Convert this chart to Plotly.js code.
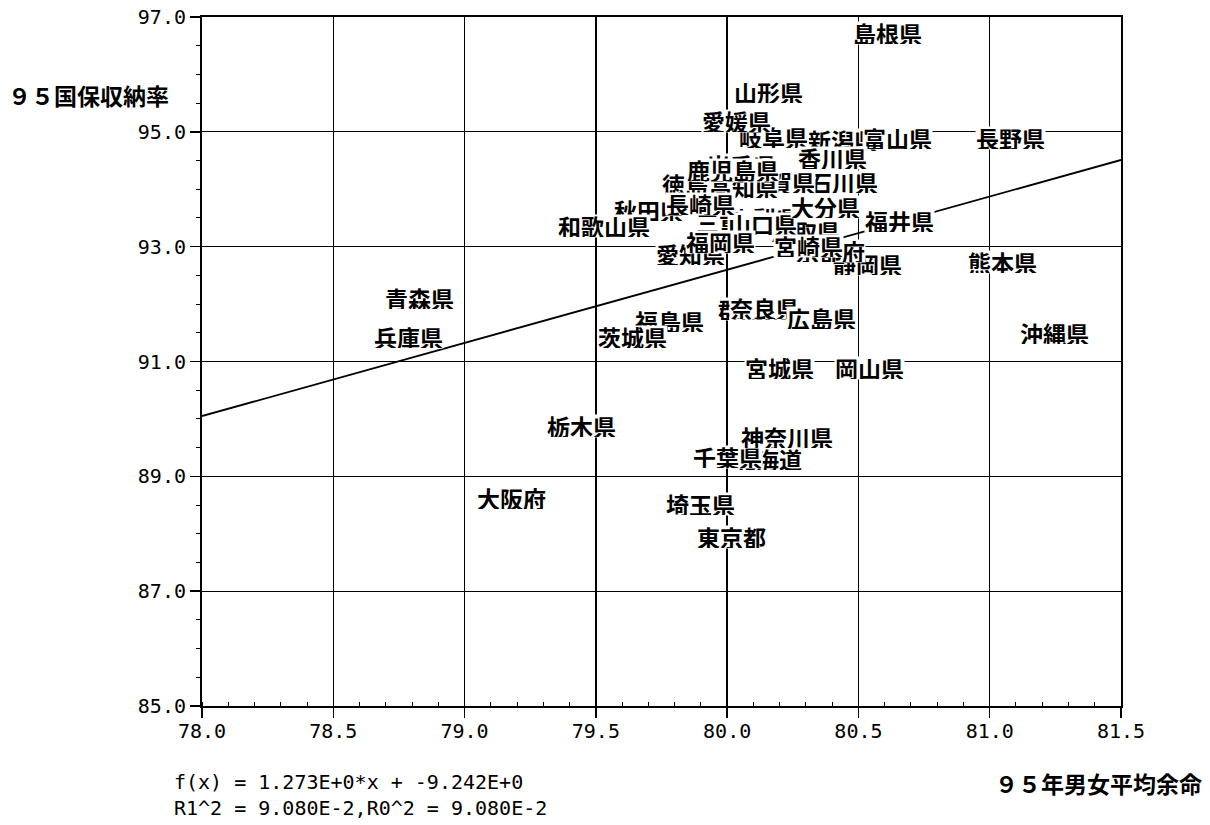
<!DOCTYPE html>
<html><head><meta charset="utf-8">
<script src="https://cdn.plot.ly/plotly-3.0.1.min.js"></script>
<style>html,body{margin:0;padding:0;background:#fff}#chart{width:1210px;height:825px}</style>
</head><body><div id="chart"></div>
<script>
// Prefectures in standard order (later labels are drawn over earlier ones)
const prefectures = ['北海道','青森県','岩手県','宮城県','秋田県','山形県','福島県','茨城県','栃木県','群馬県',
  '埼玉県','千葉県','東京都','神奈川県','新潟県','富山県','石川県','福井県','山梨県','長野県',
  '岐阜県','静岡県','愛知県','三重県','滋賀県','京都府','大阪府','兵庫県','奈良県','和歌山県',
  '鳥取県','島根県','岡山県','広島県','山口県','徳島県','香川県','愛媛県','高知県','福岡県',
  '佐賀県','長崎県','熊本県','大分県','宮崎県','鹿児島県','沖縄県'];
// 95年男女平均余命 (x)
const lifeExpectancy = [80.152,78.830,80.053,80.201,79.699,80.159,79.782,79.638,79.447,80.095,
  79.897,80.003,80.015,80.228,80.441,80.647,80.445,80.658,80.144,81.081,
  80.175,80.536,79.862,80.011,80.205,80.392,79.177,78.785,80.144,79.531,
  80.297,80.609,80.544,80.361,80.133,79.885,80.403,80.037,80.064,79.973,
  80.030,79.897,81.047,80.376,80.308,80.022,81.245];
// 95国保収納率 (y)
const collectionRate = [89.30,92.11,94.43,90.89,93.64,95.69,91.71,91.43,89.88,91.91,
  88.52,89.34,87.94,89.69,94.86,94.89,94.13,93.45,93.50,94.89,
  94.91,92.70,92.87,93.43,94.13,92.92,88.62,91.43,91.93,93.36,
  93.27,96.72,90.89,91.76,93.39,94.09,94.54,95.19,94.04,93.08,
  94.32,93.74,92.73,93.69,93.01,94.34,91.50];
// regression line end points
const fitX = [78.0, 81.5];
const fitY = [90.05, 94.51];
const xTitle = '９５年男女平均余命';
const yTitle = '９５国保収納率';
const fitLine1 = 'f(x) = 1.273E+0*x + -9.242E+0';
const fitLine2 = 'R1^2 = 9.080E-2,R0^2 = 9.080E-2';

const jpFont = {family:'Noto Sans CJK JP', size:23, color:'#000', weight:'bold'};
const titleFont = {family:'Noto Sans CJK JP', size:23, color:'#000', weight:'bold'};
const numFont = {family:'DejaVu Sans Mono', size:20, color:'#000'};

const traces = [
  {x: lifeExpectancy, y: collectionRate, mode:'markers', type:'scatter',
   marker:{size:1, color:'rgba(0,0,0,0)'}, text: prefectures, hoverinfo:'text', showlegend:false},
  {x: fitX, y: fitY, mode:'lines', type:'scatter', line:{color:'#000', width:1.8}, showlegend:false, hoverinfo:'skip'}
];

const annotations = prefectures.map((p,i)=>({
  x: lifeExpectancy[i], y: collectionRate[i], xref:'x', yref:'y', text:p, showarrow:false,
  xanchor:'center', yanchor:'middle', valign:'middle', height:22, bgcolor:'#fff', borderpad:0, font:jpFont
}));
annotations.push({xref:'paper', yref:'paper', x:-0.124, y:0.887, text:yTitle, showarrow:false, xanchor:'center', yanchor:'middle', font:titleFont});
annotations.push({xref:'paper', yref:'paper', x:0.976, y:-0.1118, text:xTitle, showarrow:false, xanchor:'center', yanchor:'middle', font:titleFont});
annotations.push({xref:'paper', yref:'paper', x:-0.033, y:-0.1103, text:fitLine1, showarrow:false, xanchor:'left', yanchor:'middle', font:numFont});
annotations.push({xref:'paper', yref:'paper', x:-0.033, y:-0.148, text:fitLine2, showarrow:false, xanchor:'left', yanchor:'middle', font:numFont});

const layout = {
  width:1210, height:825,
  margin:{l:202, r:89, t:17, b:119, pad:0},
  paper_bgcolor:'#fff', plot_bgcolor:'#fff',
  showlegend:false,
  xaxis:{range:[78,81.5], dtick:0.5, tick0:78, tickformat:'.1f', showgrid:true, gridcolor:'#000', gridwidth:1.3,
    zeroline:false, showline:true, linecolor:'#000', linewidth:2, mirror:true,
    ticks:'outside', ticklen:10, tickwidth:1.5, tickcolor:'#000', tickfont:numFont, ticklabelstandoff:-4,
    minor:{dtick:0.1, ticks:'inside', ticklen:4, tickcolor:'#000', tickwidth:1, showgrid:false}},
  yaxis:{range:[85,97], dtick:2, tick0:85, tickformat:'.1f', showgrid:true, gridcolor:'#000', gridwidth:1.3,
    zeroline:false, showline:true, linecolor:'#000', linewidth:2, mirror:true,
    ticks:'outside', ticklen:10, tickwidth:1.5, tickcolor:'#000', tickfont:numFont,
    minor:{dtick:0.5, ticks:'outside', ticklen:4, tickcolor:'#000', tickwidth:1, showgrid:false}},
  annotations: annotations
};
Plotly.newPlot('chart', traces, layout, {staticPlot:true, displayModeBar:false});
</script></body></html>
